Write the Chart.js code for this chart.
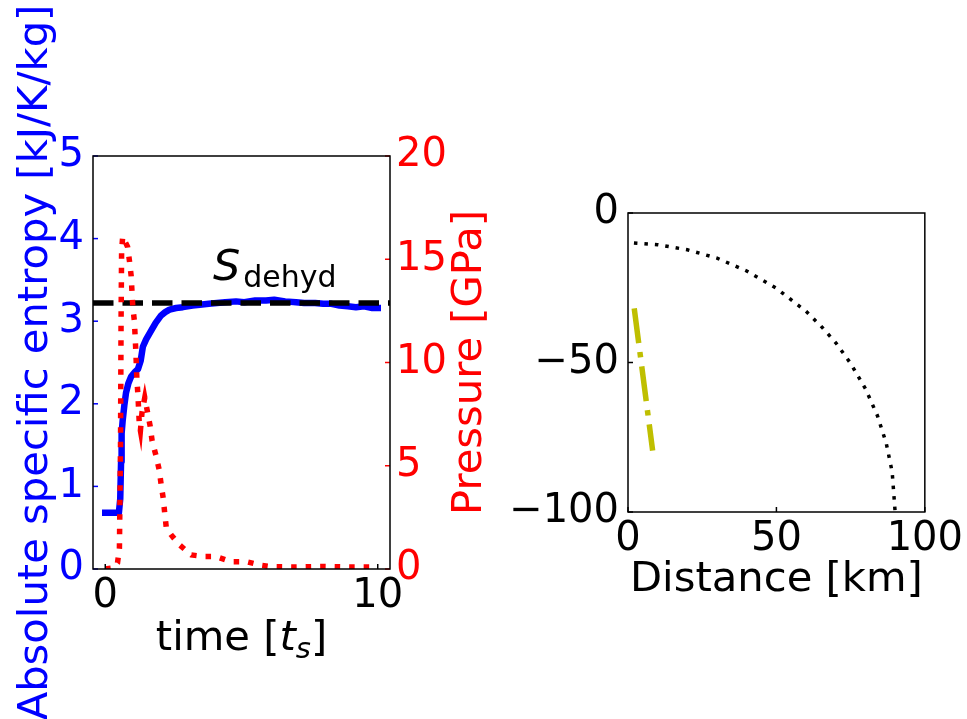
<!DOCTYPE html>
<html>
<head>
<meta charset="utf-8">
<script src="https://cdn.jsdelivr.net/npm/chart.js@4.4.1/dist/chart.umd.min.js"></script>
<style>
  body { margin: 0; background: #fff; }
  canvas { position: absolute; left: 0; top: 0; }
</style>
</head>
<body>
<canvas id="entropyChart" width="967" height="719"></canvas>
<canvas id="distanceChart" width="967" height="719"></canvas>
<script>
// left panel: entropy [kJ/K/kg] and pressure [GPa] against time [t_s]
var entropyTime = [0, 0.5, 0.55, 0.58, 0.6, 0.64, 0.7, 0.76, 0.85, 0.95, 1.1, 1.2, 1.3, 1.38, 1.5, 1.69, 1.85, 2.05, 2.2, 2.36, 2.6, 2.85, 3.2, 3.47, 3.8, 4.1, 4.4, 4.8, 5.1, 5.5, 5.9, 6.2, 6.6, 7.0, 7.3, 7.7, 8.0, 8.3, 8.6, 8.9, 9.2, 9.5, 9.8, 10.0];
var entropyValue = [0.68, 0.68, 0.85, 1.3, 1.64, 1.80, 1.98, 2.13, 2.25, 2.33, 2.39, 2.42, 2.52, 2.69, 2.78, 2.89, 2.98, 3.07, 3.11, 3.14, 3.16, 3.17, 3.19, 3.20, 3.21, 3.22, 3.23, 3.24, 3.23, 3.25, 3.25, 3.26, 3.24, 3.23, 3.22, 3.22, 3.21, 3.21, 3.19, 3.18, 3.17, 3.18, 3.16, 3.16];
var pressureTime = [0, 0.3, 0.45, 0.52, 0.56, 0.58, 0.6, 0.64, 0.82, 0.89, 0.95, 1.01, 1.07, 1.12, 1.16, 1.2, 1.25, 1.29, 1.35, 1.45, 1.55, 1.65, 1.72, 1.86, 1.98, 2.05, 2.13, 2.19, 2.24, 2.42, 2.73, 3.16, 3.65, 4.08, 4.63, 5.19, 5.68, 6.11, 7.0, 8.0, 9.0, 10.0];
var pressureValue = [0.0, 0.05, 0.3, 1.0, 6.0, 12.0, 15.4, 16.1, 15.6, 14.9, 14.2, 12.7, 12.0, 10.6, 9.2, 8.4, 7.0, 6.7, 7.6, 8.3, 7.6, 6.9, 6.2, 5.5, 4.8, 4.1, 3.4, 2.6, 2.0, 1.65, 1.16, 0.68, 0.6, 0.6, 0.35, 0.35, 0.19, 0.11, 0.1, 0.12, 0.1, 0.1];
var sDehyd = 3.22;
var sDehydLabelAt = [3.95, 3.5];
var timeRange = [-0.45, 10.45];
var timeTicks = [0, 10];
var entropyTicks = [0, 1, 2, 3, 4, 5];
var pressureTicks = [0, 5, 10, 15, 20];

// right panel: distance and depth [km]
var arcDistance = [2, 10, 20, 30, 40, 50, 60, 65, 70, 75, 80, 84, 87, 89, 90];
var arcDepth = [-10.0, -10.6, -12.3, -15.1, -19.4, -25.2, -32.9, -37.8, -43.4, -50.3, -58.8, -67.7, -77.0, -86.6, -100];
var slabDistance = [2.1, 8.3];
var slabDepth = [-31.9, -79.5];
var distanceTicks = [0, 50, 100];
var depthTicks = [-100, -50, 0];

var titleSize = 41.7;

Chart.defaults.font.family = 'DejaVu Sans';
Chart.defaults.font.size = 40;
Chart.defaults.color = '#000';

function points(xs, ys) {
  return xs.map(function (x, i) { return { x: x, y: ys[i] }; });
}
function fixTicks(list) {
  return function (scale) {
    scale.ticks = list.map(function (v) { return { value: v }; });
  };
}
function minus(v) {
  return String(v).replace('-', '\u2212');
}
function axis(extra) {
  var base = {
    type: 'linear',
    grid: { display: false, drawTicks: false },
    border: { display: false },
    ticks: { autoSkip: false, maxRotation: 0, callback: minus }
  };
  for (var k in extra) {
    if (k === 'ticks') Object.assign(base.ticks, extra.ticks);
    else base[k] = extra[k];
  }
  return base;
}

// box around the plot area plus short inward ticks
var framePlugin = {
  id: 'frame',
  afterDraw: function (chart, args, opts) {
    var ctx = chart.ctx, a = chart.chartArea;
    ctx.save();
    ctx.lineWidth = 1.5;
    Object.keys(chart.scales).forEach(function (id) {
      var s = chart.scales[id];
      ctx.strokeStyle = (opts.tickColors && opts.tickColors[id]) || '#000';
      s.ticks.forEach(function (t) {
        var p = s.getPixelForValue(t.value);
        ctx.beginPath();
        if (s.position === 'bottom') { ctx.moveTo(p, a.bottom); ctx.lineTo(p, a.bottom - 5); }
        else if (s.position === 'left') { ctx.moveTo(a.left, p); ctx.lineTo(a.left + 5, p); }
        else { ctx.moveTo(a.right, p); ctx.lineTo(a.right - 5, p); }
        ctx.stroke();
      });
    });
    ctx.strokeStyle = '#000';
    ctx.strokeRect(a.left, a.top, a.right - a.left, a.bottom - a.top);
    ctx.restore();
  }
};

// mixed-style texts of the left panel
var entropyLabels = {
  id: 'entropyLabels',
  afterDraw: function (chart) {
    var ctx = chart.ctx, a = chart.chartArea;
    var xs = chart.scales.x, ys = chart.scales.yEntropy;
    var fam = ' "DejaVu Sans"';
    ctx.save();
    ctx.fillStyle = '#000';
    ctx.textBaseline = 'alphabetic';
    ctx.textAlign = 'left';

    var sx = xs.getPixelForValue(sDehydLabelAt[0]);
    var sy = ys.getPixelForValue(sDehydLabelAt[1]);
    ctx.font = 'italic 43px' + fam;
    ctx.fillText('S', sx, sy);
    var sw = ctx.measureText('S').width;
    ctx.font = '30px' + fam;
    ctx.fillText('dehyd', sx + sw + 3, sy + 7);

    var parts = [
      { text: 'time [', font: titleSize + 'px' + fam, dy: 0 },
      { text: 't', font: 'italic ' + titleSize + 'px' + fam, dy: 0 },
      { text: 's', font: 'italic 29px' + fam, dy: 8 },
      { text: ']', font: titleSize + 'px' + fam, dy: 0 }
    ];
    var total = 0;
    parts.forEach(function (p) { ctx.font = p.font; p.w = ctx.measureText(p.text).width; total += p.w; });
    var px = (a.left + a.right) / 2 - total / 2, base = a.bottom + 81;
    parts.forEach(function (p) { ctx.font = p.font; ctx.fillText(p.text, px, base + p.dy); px += p.w; });

    ctx.translate(a.right + 80, (a.top + a.bottom) / 2);
    ctx.rotate(-Math.PI / 2);
    ctx.textAlign = 'center';
    ctx.textBaseline = 'middle';
    ctx.fillStyle = '#ff0000';
    ctx.font = titleSize + 'px' + fam;
    ctx.fillText('Pressure [GPa]', 0, 0);
    ctx.restore();
  }
};

new Chart(document.getElementById('entropyChart'), {
  type: 'line',
  data: {
    datasets: [{
      label: 'Pressure',
      data: points(pressureTime, pressureValue),
      yAxisID: 'yPressure',
      borderColor: '#ff0000',
      borderWidth: 5.5,
      borderDash: [5.5, 9],
      borderCapStyle: 'butt',
      order: 0
    }, {
      label: 'S dehyd',
      data: points(timeRange, [sDehyd, sDehyd]),
      yAxisID: 'yEntropy',
      borderColor: '#000',
      borderWidth: 5.5,
      borderDash: [20.5, 9],
      borderCapStyle: 'butt',
      order: 1
    }, {
      label: 'Entropy',
      data: points(entropyTime, entropyValue),
      yAxisID: 'yEntropy',
      borderColor: '#0000ff',
      borderWidth: 6.5,
      borderCapStyle: 'square',
      borderJoinStyle: 'round',
      order: 2
    }]
  },
  options: {
    responsive: false,
    animation: false,
    layout: { padding: { left: 0, top: 156, right: 427, bottom: 0 } },
    elements: { point: { radius: 0 }, line: { tension: 0, fill: false } },
    plugins: {
      legend: { display: false },
      tooltip: { enabled: false },
      frame: { tickColors: { x: '#000', yEntropy: '#0000ff', yPressure: '#ff0000' } }
    },
    scales: {
      x: axis({
        min: timeRange[0], max: timeRange[1],
        afterBuildTicks: fixTicks(timeTicks),
        afterFit: function (s) { s.height = 150; },
        ticks: { padding: 4, color: '#000' }
      }),
      yEntropy: axis({
        position: 'left', min: 0, max: 5,
        afterBuildTicks: fixTicks(entropyTicks),
        afterFit: function (s) { s.width = 93; },
        ticks: { padding: 9, color: '#0000ff' },
        title: {
          display: true, text: 'Absolute specific entropy [kJ/K/kg]', color: '#0000ff',
          font: { size: titleSize }, padding: { top: 11, bottom: 0 }
        }
      }),
      yPressure: axis({
        position: 'right', min: 0, max: 20,
        afterBuildTicks: fixTicks(pressureTicks),
        afterFit: function (s) { s.width = 150; },
        ticks: { padding: 6, color: '#ff0000' }
      })
    }
  },
  plugins: [framePlugin, entropyLabels]
});

new Chart(document.getElementById('distanceChart'), {
  type: 'line',
  data: {
    datasets: [{
      label: 'arc',
      data: points(arcDistance, arcDepth),
      borderColor: '#000',
      borderWidth: 3.5,
      borderDash: [3.5, 7],
      borderCapStyle: 'butt'
    }, {
      label: 'slab',
      data: points(slabDistance, slabDepth),
      borderColor: '#bfbf00',
      borderWidth: 5.5,
      borderDash: [35, 9, 5.5, 9],
      borderCapStyle: 'butt'
    }]
  },
  options: {
    responsive: false,
    animation: false,
    layout: { padding: { left: 428, top: 213, right: 41, bottom: 0 } },
    elements: { point: { radius: 0 }, line: { tension: 0, fill: false } },
    plugins: {
      legend: { display: false },
      tooltip: { enabled: false },
      frame: {}
    },
    scales: {
      x: axis({
        min: 0, max: 100,
        afterBuildTicks: fixTicks(distanceTicks),
        afterFit: function (s) { s.height = 207; },
        ticks: { padding: 4 },
        title: {
          display: true, text: 'Distance [km]',
          font: { size: titleSize }, padding: { top: 0, bottom: 114 }
        }
      }),
      y: axis({
        position: 'left', min: -100, max: 0,
        afterBuildTicks: fixTicks(depthTicks),
        afterFit: function (s) { s.width = 200; },
        ticks: { padding: 9 }
      })
    }
  },
  plugins: [framePlugin]
});
</script>
</body>
</html>
